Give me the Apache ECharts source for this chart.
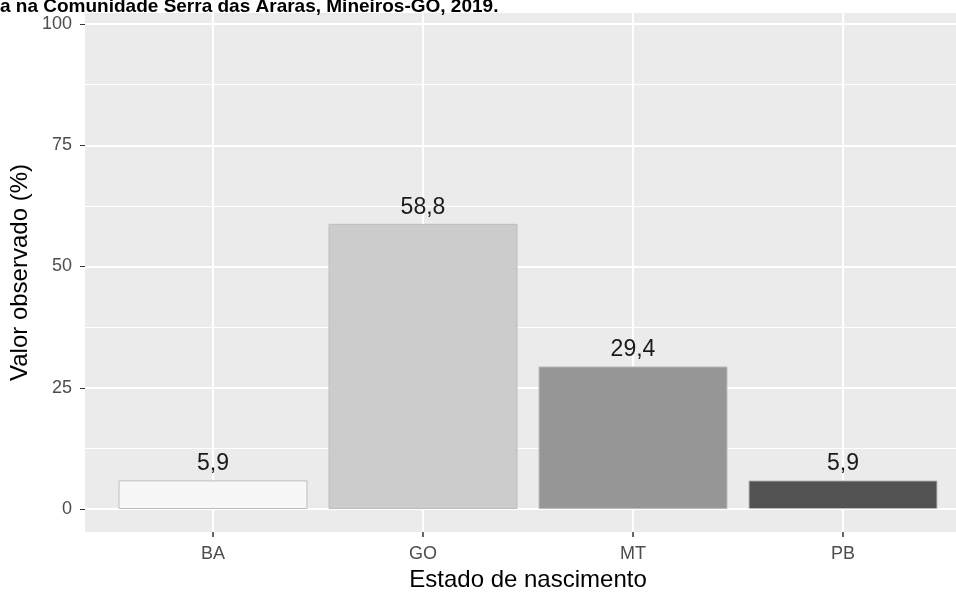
<!DOCTYPE html>
<html>
<head>
<meta charset="utf-8">
<script src="https://cdn.jsdelivr.net/npm/echarts@6/dist/echarts.min.js"></script>
<style>
  html, body { margin: 0; padding: 0; background: #fff; }
  #chart { width: 956px; height: 592px; }
</style>
</head>
<body>
<div id="chart"></div>
<script>
const categories = ['BA', 'GO', 'MT', 'PB']
const values = [5.9, 58.8, 29.4, 5.9]
const valueLabels = ['5,9', '58,8', '29,4', '5,9']
const barColors = ['#F7F7F7', '#CCCCCC', '#969696', '#525252']
const yMax = 100
const yStep = 25

// panel layout (px)
const panelTop = 13
const panelBottom = 532
const zeroY = 509
const topTickY = 24
const pxPerUnit = (zeroY - topTickY) / yMax
const barYMin = -(panelBottom - zeroY) / pxPerUnit
const barYMax = yMax + (topTickY - panelTop) / pxPerUnit

const font = 'Liberation Sans, Arial, sans-serif'
const chart = echarts.init(document.getElementById('chart'))

const option = {
  animation: false,
  backgroundColor: '#fff',
  graphic: [
    {
      type: 'text',
      left: 0,
      top: -3,
      style: {
        text: 'a na Comunidade Serra das Araras, Mineiros-GO, 2019.',
        font: 'bold 19px ' + font,
        fill: '#000',
      },
    },
  ],
  grid: [
    // panel background + axis titles
    { left: 85, right: 0, top: panelTop, bottom: 592 - panelBottom, show: true, backgroundColor: '#EBEBEB', borderWidth: 0, outerBoundsMode: 'none' },
    // y scale
    { left: 85, right: 0, top: topTickY, bottom: 592 - zeroY, outerBoundsMode: 'none' },
    // bars
    { left: 108, right: 8, top: panelTop, bottom: 592 - panelBottom, outerBoundsMode: 'none' },
  ],
  xAxis: [
    { gridIndex: 0, type: 'value', show: false },
    { gridIndex: 1, type: 'value', show: false },
    {
      gridIndex: 2,
      type: 'category',
      data: categories,
      z: 1,
      name: 'Estado de nascimento',
      nameLocation: 'middle',
      nameGap: 33,
      nameTextStyle: { color: '#000', fontSize: 24, fontFamily: font },
      axisLine: { show: true, onZero: false, lineStyle: { color: 'rgba(0,0,0,0)' } },
      axisTick: { show: true, alignWithLabel: true, interval: 0, length: 5, lineStyle: { color: '#333333', width: 1.5 } },
      axisLabel: { color: '#4D4D4D', fontSize: 18, fontFamily: font, margin: 13 },
      splitLine: { show: true, alignWithLabel: true, lineStyle: { color: '#FFFFFF', width: 2 } },
    },
  ],
  yAxis: [
    {
      gridIndex: 0,
      type: 'value',
      name: 'Valor observado (%)',
      nameLocation: 'middle',
      nameRotate: 90,
      nameGap: 53,
      nameTextStyle: { color: '#000', fontSize: 24, fontFamily: font },
      axisLine: { show: false },
      axisTick: { show: false },
      axisLabel: { show: false },
      splitLine: { show: false },
    },
    {
      gridIndex: 1,
      type: 'value',
      min: 0,
      max: yMax,
      interval: yStep,
      z: 1,
      axisLine: { show: false },
      axisTick: { show: true, length: 5, lineStyle: { color: '#333333', width: 1 } },
      axisLabel: { color: '#4D4D4D', fontSize: 18, fontFamily: font, margin: 13 },
      splitLine: { show: true, lineStyle: { color: '#FFFFFF', width: 2 } },
      minorTick: { show: false, splitNumber: 2 },
      minorSplitLine: { show: true, lineStyle: { color: '#FFFFFF', width: 1 } },
    },
    { gridIndex: 2, type: 'value', show: false, min: barYMin, max: barYMax },
  ],
  series: [
    {
      type: 'bar',
      xAxisIndex: 2,
      yAxisIndex: 2,
      barWidth: '90%',
      data: values.map((v, i) => ({
        value: v,
        itemStyle: { color: barColors[i] },
      })),
      itemStyle: { borderColor: '#BDBDBD', borderWidth: 1 },
      label: {
        show: true,
        position: 'top',
        distance: 5,
        color: '#1A1A1A',
        fontSize: 23,
        fontFamily: font,
        formatter: (p) => valueLabels[p.dataIndex],
      },
    },
  ],
}

chart.setOption(option)
</script>
</body>
</html>
